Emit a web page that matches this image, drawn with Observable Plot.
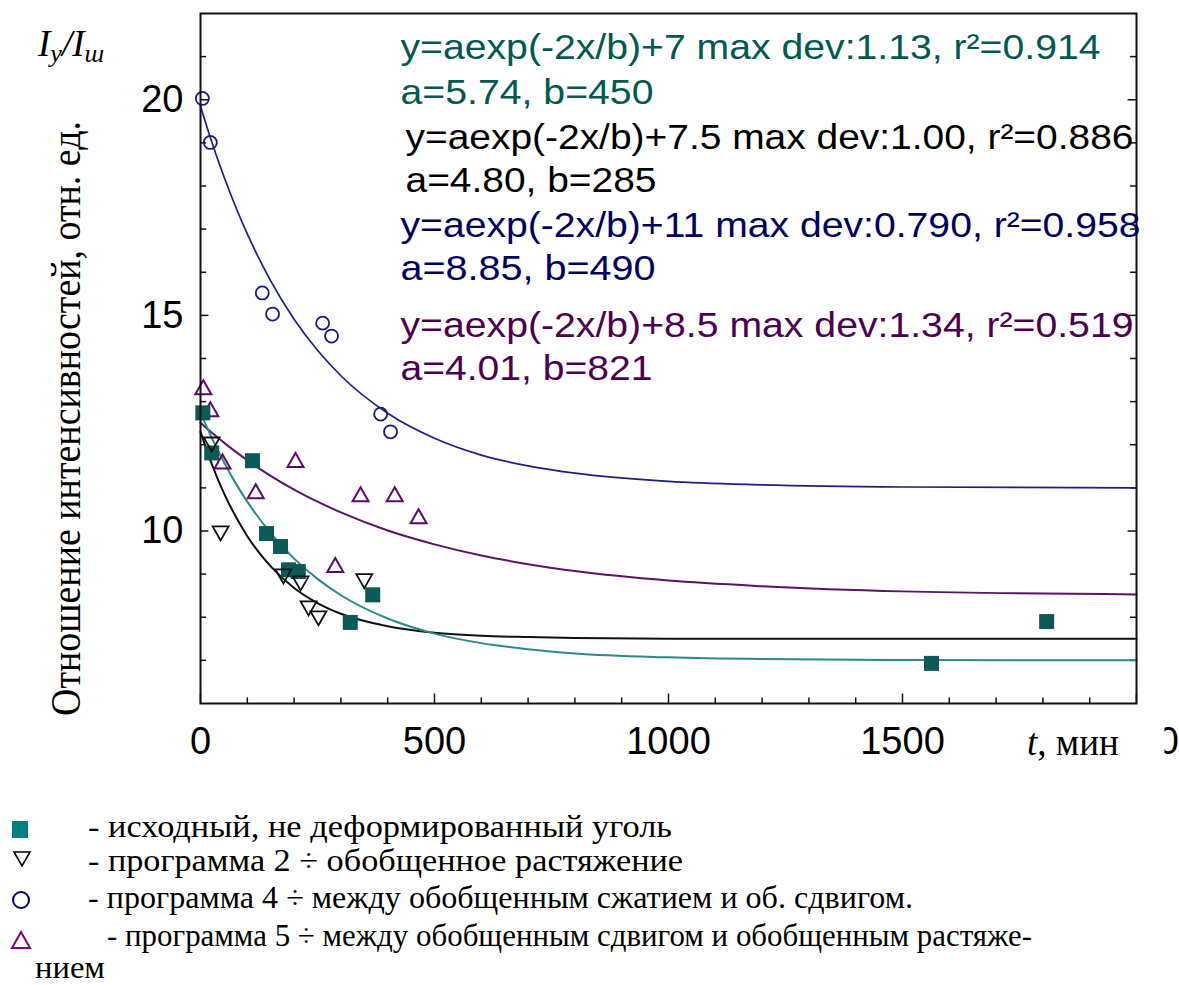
<!DOCTYPE html>
<html><head><meta charset="utf-8">
<script src="https://cdn.jsdelivr.net/npm/d3@7"></script>
<script src="https://cdn.jsdelivr.net/npm/@observablehq/plot@0.6"></script>
<style>
body{margin:0;background:#fff;}
#wrap{position:relative;width:1179px;height:985px;background:#fff;overflow:hidden;}
#wrap svg{position:absolute;left:0;}
</style></head><body><div id="wrap"></div>
<script>
// ---- measured points ----
const squareT = [5, 24, 111, 141, 171, 188, 209, 320, 368, 1562, 1808];
const squareV = [12.74, 11.81, 11.63, 9.94, 9.64, 9.10, 9.06, 7.88, 8.52, 6.93, 7.90];
const downT = [24, 43, 177, 214, 231, 252, 350];
const downV = [12.02, 9.96, 8.96, 8.80, 8.22, 7.99, 8.85];
const circleT = [4, 21, 132, 154, 261, 280, 385, 406];
const circleV = [20.03, 19.01, 15.52, 15.03, 14.82, 14.52, 12.71, 12.30];
const upT = [6, 21, 47, 118, 203, 288, 342, 415, 466];
const upV = [13.32, 12.81, 11.60, 10.91, 11.63, 9.20, 10.84, 10.84, 10.33];

// ---- fitted curves, values ----
const fitT = [0, 25, 50, 75, 100, 150, 200, 250, 300, 400, 500, 600, 700, 800, 1000, 1200, 1500, 2000];
const tealFit = [12.74, 12.14, 11.60, 11.11, 10.68, 9.95, 9.36, 8.89, 8.51, 7.97, 7.62, 7.40, 7.26, 7.16, 7.07, 7.03, 7.01, 7.00];
const blackFit = [12.30, 11.53, 10.88, 10.34, 9.88, 9.18, 8.68, 8.33, 8.08, 7.79, 7.64, 7.57, 7.54, 7.52, 7.50, 7.50, 7.50, 7.50];
const blueFit = [19.85, 18.99, 18.22, 17.52, 16.89, 15.80, 14.91, 14.19, 13.60, 12.73, 12.15, 11.76, 11.51, 11.34, 11.15, 11.07, 11.02, 11.00];
const purpleFit = [12.51, 12.27, 12.05, 11.84, 11.64, 11.28, 10.96, 10.68, 10.43, 10.01, 9.69, 9.43, 9.23, 9.07, 8.85, 8.72, 8.60, 8.53];

// ---- ticks ----
const xLabels = [0, 500, 1000, 1500, 2000];
const xMinor = [100,200,300,400,600,700,800,900,1100,1200,1300,1400,1600,1700,1800,1900];
const yLabels = [10, 15, 20];
const yMinor = [7,8,9,11,12,13,14,16,17,18,19,21];

// ---- texts ----
const annTexts = [
  "y=aexp(-2x/b)+7 max dev:1.13, r²=0.914", "a=5.74, b=450",
  "y=aexp(-2x/b)+7.5 max dev:1.00, r²=0.886", "a=4.80, b=285",
  "y=aexp(-2x/b)+11 max dev:0.790, r²=0.958", "a=8.85, b=490",
  "y=aexp(-2x/b)+8.5 max dev:1.34, r²=0.519", "a=4.01, b=821"
];
const yTitle = "Отношение интенсивностей, отн. ед.";
const legendTexts = [
  "- исходный, не деформированный уголь",
  "- программа 2 ÷ обобщенное растяжение",
  "- программа 4 ÷ между обобщенным сжатием и об. сдвигом.",
  "- программа 5 ÷ между обобщенным сдвигом и обобщенным растяже-",
  "нием"
];

const cTeal = "#005a50", cNavy = "#000064", cPurple = "#4e0050";

const squares = squareT.map((t,i)=>({t, v: squareV[i]}));
const downs = downT.map((t,i)=>({t, v: downV[i]}));
const circles = circleT.map((t,i)=>({t, v: circleV[i]}));
const ups = upT.map((t,i)=>({t, v: upV[i]}));
const fits = fitT.map((t,i)=>({t, teal: tealFit[i], black: blackFit[i], blue: blueFit[i], purple: purpleFit[i]}));

const symSquare = {draw(c, size){ const r = Math.sqrt(size/Math.PI); c.rect(-r,-r,2*r,2*r); }};
const symUp = {draw(c, size){ const r = Math.sqrt(size/Math.PI); c.moveTo(0,-0.95*r); c.lineTo(r,0.8*r); c.lineTo(-r,0.8*r); c.closePath(); }};
const symDown = {draw(c, size){ const r = Math.sqrt(size/Math.PI); c.moveTo(0,0.95*r); c.lineTo(r,-0.8*r); c.lineTo(-r,-0.8*r); c.closePath(); }};

const annLayout = [
  {dx:200, dy:34, len:700, fill:cTeal},
  {dx:200, dy:79, len:253, fill:cTeal},
  {dx:205, dy:124, len:728, fill:"#000"},
  {dx:205, dy:167, len:251, fill:"#000"},
  {dx:200, dy:212, len:740, fill:cNavy},
  {dx:200, dy:255, len:255, fill:cNavy},
  {dx:200, dy:312, len:733, fill:cPurple},
  {dx:200, dy:355, len:252, fill:cPurple}
];

const annMarks = annTexts.map((s,i)=>Plot.text([s], {
  text: d=>d, frameAnchor:"top-left", dx: annLayout[i].dx, dy: annLayout[i].dy,
  textAnchor:"start", lineAnchor:"middle", fill: annLayout[i].fill, fontSize: 35,
  fontFamily: "'Liberation Sans', Arial, sans-serif"
}));

const plot = Plot.plot({
  width: 1179, height: 770,
  marginLeft: 200, marginRight: 43, marginTop: 13, marginBottom: 67,
  x: {domain: [0, 2000]},
  y: {domain: [6, 22]},
  style: {fontFamily: "'Liberation Sans', Arial, sans-serif", fontSize: "38px", background: "white", color: "black", overflow: "visible"},
  marks: [
    Plot.axisX({ticks: xLabels, tickSize: 0, tickPadding: 24, fontSize: 38, label: null, tickFormat: d => String(d)}),
    Plot.axisY({ticks: yLabels, tickSize: 0, tickPadding: 17, fontSize: 38, label: null, tickFormat: d => String(d)}),
    Plot.ruleY(yMinor, {y: d=>d, x1: 0, x2: 13, stroke: "#111", strokeWidth: 1.5}),
    Plot.ruleY(yLabels, {y: d=>d, x1: 0, x2: 18, stroke: "#111", strokeWidth: 1.5}),
    Plot.ruleY(yMinor, {y: d=>d, x1: 1987, x2: 2000, stroke: "#111", strokeWidth: 1.5}),
    Plot.ruleY(yLabels, {y: d=>d, x1: 1982, x2: 2000, stroke: "#111", strokeWidth: 1.5}),
    Plot.ruleX(xMinor, {x: d=>d, y1: 6, y2: 6.13, stroke: "#111", strokeWidth: 1.5}),
    Plot.ruleX(xLabels, {x: d=>d, y1: 6, y2: 6.22, stroke: "#111", strokeWidth: 1.5}),
    Plot.line(fits, {x:"t", y:"blue", stroke:"#1e1e8a", strokeWidth:1.7, curve:"monotone-x"}),
    Plot.line(fits, {x:"t", y:"purple", stroke:"#5a1468", strokeWidth:2, curve:"monotone-x"}),
    Plot.line(fits, {x:"t", y:"black", stroke:"#111", strokeWidth:2, curve:"monotone-x"}),
    Plot.line(fits, {x:"t", y:"teal", stroke:"#2a8c84", strokeWidth:2, curve:"monotone-x"}),
    Plot.dot(circles, {x:"t", y:"v", r:6.5, stroke:"#1a1a80", strokeWidth:1.8, fill:"none"}),
    Plot.dot(ups, {x:"t", y:"v", symbol: symUp, r:8, stroke:"#5e0a6a", strokeWidth:2, fill:"none"}),
    Plot.dot(squares, {x:"t", y:"v", symbol: symSquare, r:7.5, fill:"#0b5a55", stroke:"none"}),
    Plot.dot(downs, {x:"t", y:"v", symbol: symDown, r:8, stroke:"#111", strokeWidth:1.8, fill:"none"}),
    Plot.frame({stroke:"#111", strokeWidth:2}),
    ...annMarks,
    Plot.text([yTitle], {text: d=>d, frameAnchor:"left", dx:-134, dy:60, rotate:-90, textAnchor:"middle",
      fontFamily:"'Liberation Serif', 'Times New Roman', serif", fontSize:42, fill:"#000"})
  ]
});

const wrap = document.getElementById("wrap");
plot.style.top = "0px";
wrap.appendChild(plot);

// stretch texts to the widths seen in the picture
const lenMap = new Map(annTexts.map((s,i)=>[s, annLayout[i].len]));
lenMap.set(yTitle, 595);
const svg = d3.select(plot);
// the last tick label is mostly hidden in the picture: only the right edge of its final digit shows
svg.append("defs").append("clipPath").attr("id", "lastTickClip").attr("clipPathUnits", "userSpaceOnUse")
  .append("rect").attr("x", 28).attr("y", -20).attr("width", 40).attr("height", 90);
plot.querySelectorAll("text").forEach(t => {
  const k = t.textContent;
  if (lenMap.has(k)) { t.setAttribute("textLength", lenMap.get(k)); t.setAttribute("lengthAdjust", "spacingAndGlyphs"); }
  if (k === "2000") t.setAttribute("clip-path", "url(#lastTickClip)");
});

// axis name
const tl = svg.append("text").attr("x", 1027).attr("y", 755).attr("text-anchor", "start")
  .attr("font-family", "'Liberation Serif', 'Times New Roman', serif").attr("font-size", 37).attr("fill", "#000");
tl.append("tspan").attr("font-style", "italic").text("t");
tl.append("tspan").text(", мин");

// I_y / I_ш
const iy = svg.append("text").attr("x", 38).attr("y", 56).attr("text-anchor", "start")
  .attr("font-family", "'Liberation Serif', 'Times New Roman', serif").attr("font-style", "italic")
  .attr("font-size", 37).attr("fill", "#000");
iy.append("tspan").text("I");
iy.append("tspan").attr("font-size", 26).attr("dy", 6).text("у");
iy.append("tspan").attr("dy", -6).text("/I");
iy.append("tspan").attr("font-size", 26).attr("dy", 6).text("ш");

// legend below the chart
const lg = d3.select(wrap).append("svg").attr("width", 1179).attr("height", 215).style("top", "770px");
lg.append("rect").attr("x", 12).attr("y", 51).attr("width", 16).attr("height", 17).attr("fill", "#008080");
lg.append("path").attr("d", "M14,82L30,82L22,96Z").attr("fill", "none").attr("stroke", "#000").attr("stroke-width", 1.6);
lg.append("circle").attr("cx", 21).attr("cy", 130).attr("r", 8).attr("fill", "none").attr("stroke", "#000080").attr("stroke-width", 2);
lg.append("path").attr("d", "M21,162L30,178L12,178Z").attr("fill", "none").attr("stroke", "#800080").attr("stroke-width", 2);
const lgPos = [
  {x: 88, y: 67, len: 584},
  {x: 88, y: 101, len: 595},
  {x: 88, y: 138, len: 825},
  {x: 107, y: 176, len: 925},
  {x: 35, y: 208, len: 70}
];
legendTexts.forEach((s, i) => {
  lg.append("text").attr("x", lgPos[i].x).attr("y", lgPos[i].y)
    .attr("font-family", "'Liberation Serif', 'Times New Roman', serif").attr("font-size", 32)
    .attr("textLength", lgPos[i].len).attr("lengthAdjust", "spacingAndGlyphs")
    .attr("fill", "#000").text(s);
});
</script>
</body></html>
